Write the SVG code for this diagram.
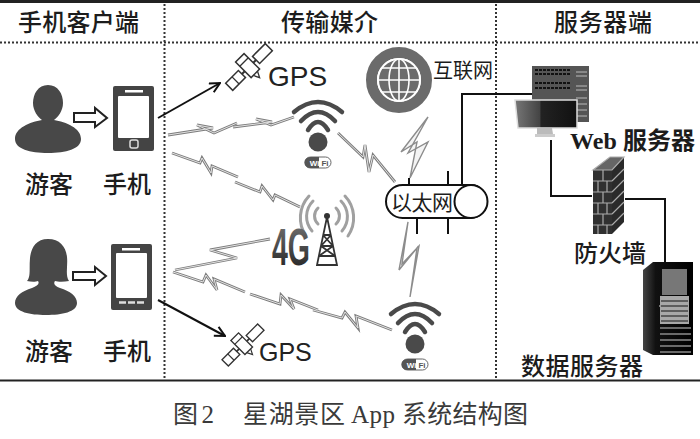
<svg xmlns="http://www.w3.org/2000/svg" width="700" height="439" viewBox="0 0 700 439">
<style>
text{font-family:"Liberation Serif","Noto Sans CJK SC",sans-serif;fill:#1c1c1c}
.h{font-size:24px;font-weight:500}
.l{font-size:24px;font-weight:500}
.cap{font-size:25px;fill:#3a3a3a}
.gps{font-family:"Liberation Sans",sans-serif;fill:#222}
.boltf{fill:#f4f4f4;stroke:#8c8c8c;stroke-width:1.4}
.wire{fill:none;stroke:#111;stroke-width:2}
.dot{fill:none;stroke:#333;stroke-width:2;stroke-dasharray:2 2}
.hol{fill:#fff;stroke:#222;stroke-width:2}
.ph{fill:#444}
.sc{fill:#fff}
.per{fill:#484848}
.wf{fill:none;stroke:#4a4a4a;stroke-width:4.5;stroke-linecap:round}
.tw{fill:none;stroke:#333;stroke-width:1.8}
.ra{fill:none;stroke:#a0a0a0;stroke-width:3;stroke-linecap:round}
.br{stroke:#aaa;stroke-width:1.2;fill:none}
</style>
<defs>
<marker id="ah" viewBox="0 0 12 12" refX="11" refY="6" markerWidth="12" markerHeight="12" markerUnits="userSpaceOnUse" orient="auto"><path d="M1 1L11 6L1 11" fill="none" stroke="#111" stroke-width="2"/></marker>
<linearGradient id="g4" x1="0" y1="0" x2="0" y2="1"><stop offset="0" stop-color="#777"/><stop offset="1" stop-color="#1c1c1c"/></linearGradient>
<linearGradient id="scr" x1="0" y1="0" x2="1" y2="0"><stop offset="0" stop-color="#777"/><stop offset=".4" stop-color="#444"/><stop offset=".42" stop-color="#222"/><stop offset="1" stop-color="#111"/></linearGradient>
<linearGradient id="srv" x1="0" y1="0" x2="1" y2="0"><stop offset="0" stop-color="#444"/><stop offset=".25" stop-color="#111"/><stop offset="1" stop-color="#000"/></linearGradient>
<g id="bolts" fill="none" stroke-linejoin="miter">
<polyline points="168,135 213,128 197,125 214,133 237,123"/>
<polyline points="233,127 272,122 256,119 271,125 294,117"/>
<polyline points="172,153 200,163 202,158 211,173 212,166 238,177"/>
<polyline points="235,182 260,192 262,186 273,200 275,195 300,207"/>
<polyline points="338,133 363,157 365,145 369,172 373,155 395,182"/>
<polyline points="270,239 210,250 237,258 175,270"/>
<polyline points="173,272 203,282 206,275 217,290 214,279 245,292"/>
<polyline points="250,294 280,304 281,295 294,309 290,299 318,310"/>
<polyline points="313,310 342,318 345,312 358,328 356,316 392,330"/>
</g>
<g id="sat">
<g transform="rotate(-45)">
<rect x="-28" y="-5" width="18" height="10" fill="#fff" stroke="#333" stroke-width="1.500"/>
<path d="M-19 -5V5M19 -5V5" stroke="#333" stroke-width="1.300"/>
<rect x="10" y="-5" width="18" height="10" fill="#fff" stroke="#333" stroke-width="1.500"/>
<path d="M-10 0H-6M6 0H10" stroke="#333" stroke-width="2"/>
<rect x="-6" y="-13" width="12" height="22" fill="#fff" stroke="#333" stroke-width="1.500"/>
<path d="M-6 -7H6M-3 9L0 15L3 9" fill="none" stroke="#333" stroke-width="1.300"/>
</g>
</g>
<g id="wifi">
<path class="wf" d="M-24 -20Q0 -40 24 -20"/>
<path class="wf" d="M-17 -11Q0 -29 17 -11"/>
<path class="wf" d="M-10 -2Q0 -18 10 -2"/>
<circle cx="0" cy="10" r="9.500" fill="#4a4a4a"/>
<rect x="-13" y="25" width="26" height="11" rx="5.500" fill="#fff" stroke="#666"/>
<path d="M-8 25H1V36H-8A5.500 5.500 0 0 1 -8 25Z" fill="#555"/>
<text x="-3.500" y="33.500" text-anchor="middle" style="font-family:'Liberation Sans',sans-serif;font-size:8px;font-weight:700;fill:#fff">Wi</text>
<text x="7" y="33.500" text-anchor="middle" style="font-family:'Liberation Sans',sans-serif;font-size:8px;font-weight:700;fill:#555">Fi</text>
</g>
</defs>
<rect width="700" height="439" fill="#fff"/>
<g id="frame">
<path d="M0 1.500H700" stroke="#222" stroke-width="3"/>
<path d="M0 380.500H700" stroke="#222" stroke-width="2"/>
<path class="dot" d="M0 42.500H700"/>
<path class="dot" d="M164.500 4V380"/>
<path class="dot" d="M496 4V380"/>
</g>
<g id="headers">
<text class="h" x="18" y="31" textLength="121">手机客户端</text>
<text class="h" x="281" y="31" textLength="97">传输媒介</text>
<text class="h" x="554" y="31" textLength="98">服务器端</text>
</g>
<g id="connectors">
<path class="wire" d="M158 118L220 83" marker-end="url(#ah)"/>
<path class="wire" d="M158 300L225 336" marker-end="url(#ah)"/>
<path class="hol" d="M74 113H95V108L107 118L95 127V122H74Z"/>
<path class="hol" d="M73 272H95V267L106 276L95 285V280H73Z"/>
<use href="#bolts" stroke="#7d7d7d" stroke-width="2.800"/>
<use href="#bolts" stroke="#e2e2e2" stroke-width="1"/>
<polygon class="boltf" points="428,117 408,153 428,142 410,178 417,142 401,152"/>
<polygon class="boltf" points="408,222 399,270 417,248 410,297 419,246 402,264"/>
<path class="wire" d="M535 94H462V186"/>
<path class="wire" d="M551 140V196H592"/>
<path class="wire" d="M625 199H665V262"/>
<path d="M409 178V185M448 171V185M417 218V234M448 218V234" stroke="#111" stroke-width="2" fill="none"/>
</g>
<g id="user1">
<path class="per" d="M48 85C38 85 33 94 33 103C33 111 38 117 42 120C30 122 15 128 15 139C15 149 30 153 48 153C66 153 81 149 81 139C81 128 66 122 54 120C58 117 63 111 63 103C63 94 58 85 48 85Z"/>
<text class="l" x="25" y="193" textLength="48">游客</text>
</g>
<g id="phone1">
<rect class="ph" x="113" y="86" width="41" height="65" rx="2"/>
<rect class="sc" x="118" y="96" width="31" height="42" rx="1"/>
<rect class="sc" x="125" y="90" width="18" height="2.500"/>
<rect x="130" y="140" width="8" height="8" rx="2" fill="#444" stroke="#ddd" stroke-width="1.500"/>
<text class="l" x="103" y="193" textLength="48">手机</text>
</g>
<g id="user2">
<path class="per" d="M48 239C36 239 31 248 30 258C29 268 31 277 27 281C31 282 36 282 38 281C40 284 37 286 32 288C22 291 15 296 15 303C15 312 30 315 46 315C62 315 77 312 77 303C77 296 70 291 60 288C55 286 53 284 55 281C58 282 64 282 69 281C65 275 68 266 67 257C66 247 60 239 48 239Z"/>
<text class="l" x="25" y="360" textLength="48">游客</text>
</g>
<g id="phone2">
<rect class="ph" x="111" y="244" width="41" height="66" rx="2"/>
<rect class="sc" x="116" y="253" width="31" height="45" rx="1"/>
<rect class="sc" x="122" y="248" width="18" height="2.500"/>
<path d="M119 302.500H126M128 302.500H135M137 302.500H144" stroke="#ddd" stroke-width="2.500"/>
<text class="l" x="103" y="360" textLength="48">手机</text>
</g>
<g id="gps1">
<use href="#sat" x="249" y="67"/>
<text class="gps" x="268" y="86" font-size="28">GPS</text>
</g>
<g id="gps2">
<use href="#sat" transform="translate(243 345) scale(.9)"/>
<text class="gps" x="259" y="361" font-size="25">GPS</text>
</g>
<g id="wifi1"><use href="#wifi" x="318" y="132"/></g>
<g id="wifi2"><use href="#wifi" x="415" y="334"/></g>
<g id="tower4g">
<path class="ra" d="M318 208A11 11 0 0 0 318 224M336 208A11 11 0 0 1 336 224"/>
<path class="ra" d="M313 201A22 22 0 0 0 312 231M341 201A22 22 0 0 1 342 231"/>
<path class="ra" d="M309 196A32 32 0 0 0 306 236M345 196A32 32 0 0 1 348 236"/>
<circle cx="327" cy="216" r="3" fill="#333"/>
<path class="tw" d="M327 217L317 265H337ZM323 235H331M321 246H333M319 256H335M323 235L333 246M331 235L321 246M321 246L335 256M333 246L319 256"/>
<text x="272" y="265" style="font-family:'Liberation Sans',sans-serif;font-size:51px;font-weight:700;fill:url(#g4)" textLength="38" lengthAdjust="spacingAndGlyphs">4G</text>
</g>
<g id="internet">
<circle cx="399" cy="80" r="27.500" fill="#fff" stroke="#6b6b6b" stroke-width="11"/>
<circle cx="399" cy="80" r="21" fill="#6b6b6b" stroke="#fff" stroke-width="2"/>
<path d="M378 80H420M399 59V101M382 68H416M382 92H416" stroke="#fff" stroke-width="1.600" fill="none"/>
<ellipse cx="399" cy="80" rx="10" ry="21" fill="none" stroke="#fff" stroke-width="1.600"/>
<text x="433" y="78" font-size="20" textLength="60">互联网</text>
</g>
<g id="ethernet">
<rect x="386" y="185" width="101" height="33" rx="16.500" fill="#fff" stroke="#111" stroke-width="2"/>
<circle cx="471" cy="201.500" r="16.500" fill="#fff" stroke="#111" stroke-width="2"/>
<text x="391" y="210" font-size="21" textLength="62">以太网</text>
</g>
<g id="webserver">
<rect x="532" y="66" width="57" height="56" fill="#555"/>
<path d="M535 70H570M535 74H570M535 83H570M535 88H570" stroke="#111" stroke-width="2" stroke-dasharray="3 1"/>
<path d="M576 72H587M576 76H587M576 86H587M576 90H587M576 98H587M576 104H587M576 110H587M576 116H587" stroke="#bbb" stroke-width="1"/>
<path d="M515 100H577V128H518Z" fill="url(#scr)" stroke="#ddd" stroke-width="1.500"/>
<path d="M537 128H552L553 134H537Z" fill="#bbb"/>
<rect x="535" y="134" width="20" height="3" fill="#ccc"/>
<text x="570" y="149" font-size="24" font-weight="700" textLength="125">Web 服务器</text>
</g>
<g id="firewall">
<path d="M593 170L610 157H624L612 170Z" fill="#666"/>
<path d="M612 170L624 157V222L612 234Z" fill="#2a2a2a"/>
<rect x="593" y="170" width="19" height="64" fill="#303030"/>
<path class="br" d="M593 170L610 157H624L612 170ZM593 181H612M593 192H612M593 203H612M593 214H612M593 225H612M603 170V181M598 181V192M607 181V192M603 192V203M598 203V214M607 203V214M603 214V225M598 225V234M607 225V234M612 181L624 169M612 192L624 180M612 203L624 191M612 214L624 202M612 225L624 213"/>
<text class="l" x="574" y="262" textLength="72">防火墙</text>
</g>
<g id="dataserver">
<path d="M643 270L653 262H693V355H653L643 350Z" fill="url(#srv)"/>
<rect x="662" y="269" width="25" height="26" fill="#777"/>
<rect x="660" y="296" width="29" height="28" fill="#a8a8a8"/>
<path d="M661 301H688M661 306H688M661 311H688M661 316H688M661 321H688" stroke="#444" stroke-width="1.500"/>
<path d="M660 328H691M660 334H691M660 340H691M660 346H691M660 352H691" stroke="#6a6a6a" stroke-width="2"/>
<circle cx="660" cy="306" r="1" fill="#999"/>
<text class="l" x="521" y="375" textLength="122">数据服务器</text>
</g>
<g id="caption">
<text class="cap" x="173" y="423" textLength="41">图2</text>
<text class="cap" x="243" y="423" textLength="102">星湖景区</text>
<text class="cap" x="351" y="423" textLength="44">App</text>
<text class="cap" x="402" y="423" textLength="126">系统结构图</text>
</g>
</svg>
